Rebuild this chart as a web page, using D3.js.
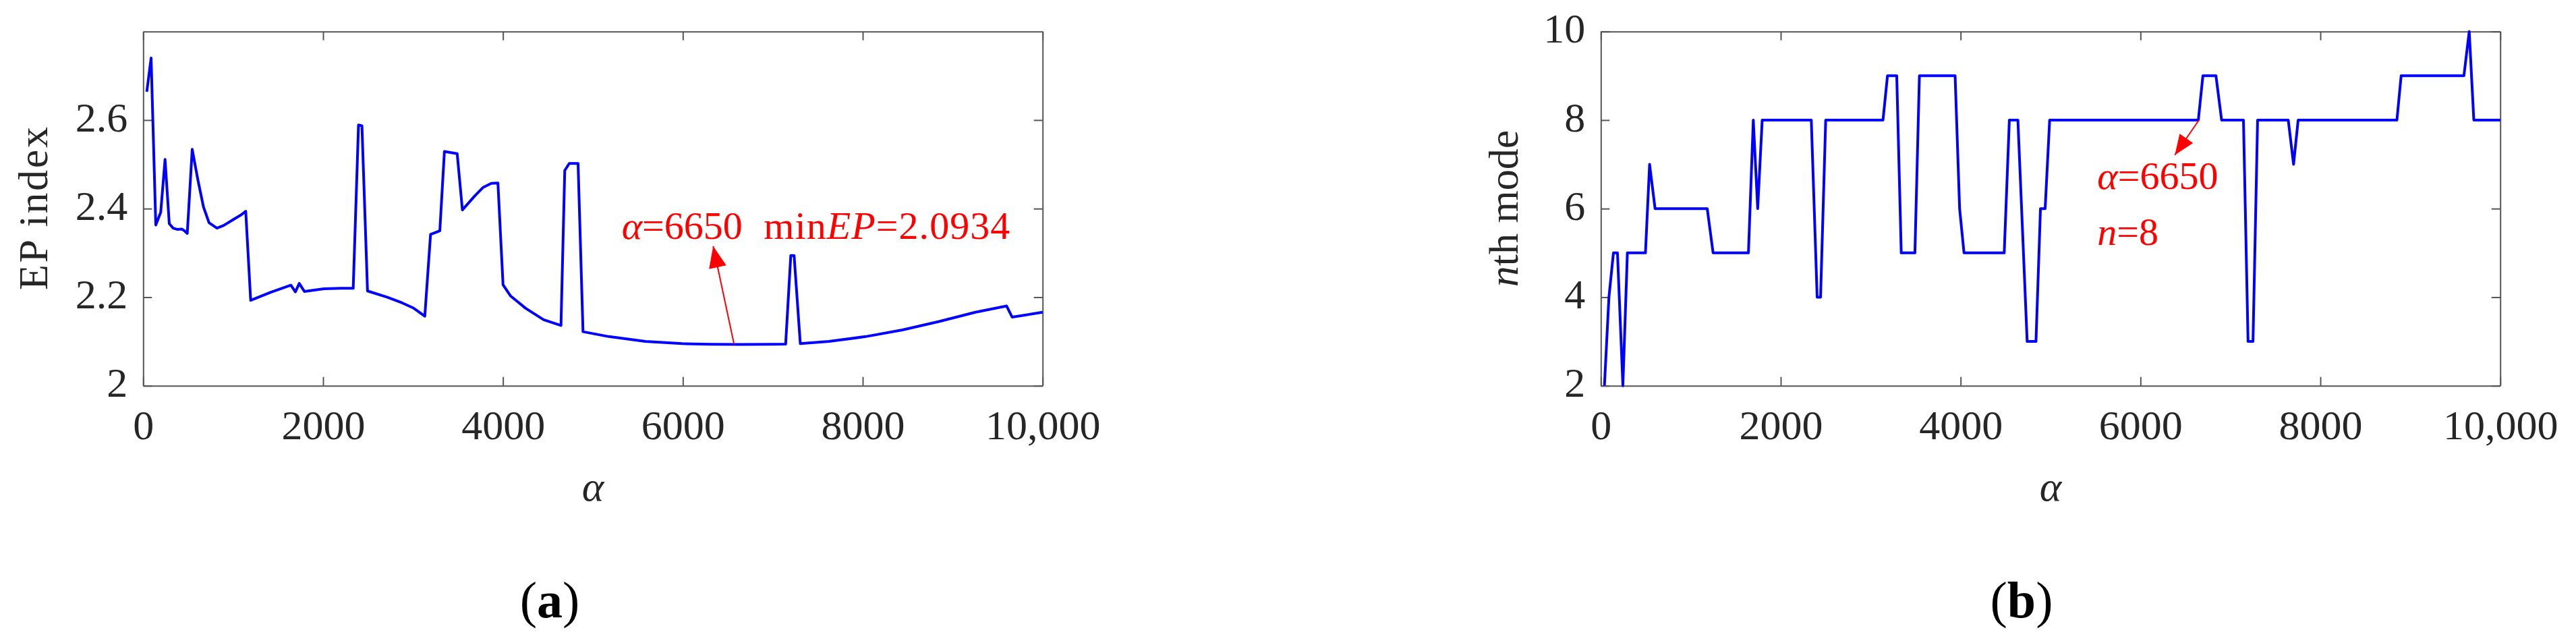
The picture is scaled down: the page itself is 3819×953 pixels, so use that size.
<!DOCTYPE html>
<html><head><meta charset="utf-8">
<script src="https://cdn.jsdelivr.net/npm/d3@7/dist/d3.min.js"></script>
<style>
html,body{margin:0;padding:0;background:#fff;}
svg text{font-family:"Liberation Serif","Times New Roman",serif;}
</style></head><body>
<svg id="chart" width="3819" height="953"></svg>
<script>
// ---------- data ----------
const alphaA = [40,88,140,195,243,290,333,383,428,458,490,545,607,670,732,820,895,1007,1082,1140,1195,1419,1642,1692,1735,1792,1900,2010,2200,2335,2394,2432,2494,2711,2880,3000,3131,3195,3298,3349,3491,3549,3683,3780,3870,3944,4001,4083,4252,4452,4645,4687,4737,4835,4890,5176,5584,5992,6300,6650,7000,7143,7200,7237,7306,7624,8033,8441,8849,9253,9600,9661,10000];
const epIndex = [2.664,2.74,2.363,2.392,2.511,2.366,2.356,2.353,2.354,2.35,2.344,2.534,2.466,2.404,2.368,2.356,2.362,2.376,2.385,2.394,2.193,2.211,2.227,2.212,2.231,2.213,2.216,2.219,2.22,2.22,2.589,2.587,2.214,2.2,2.187,2.176,2.157,2.342,2.35,2.529,2.524,2.397,2.428,2.448,2.457,2.458,2.228,2.203,2.175,2.149,2.136,2.486,2.502,2.502,2.122,2.111,2.1,2.095,2.0938,2.0934,2.0937,2.094,2.294,2.294,2.095,2.1,2.111,2.126,2.145,2.166,2.18,2.155,2.166];

const alphaB = [40,90,140,185,245,295,496,542,603,1183,1248,1641,1695,1744,1794,2340,2405,2443,2500,3137,3187,3290,3340,3492,3542,3939,3989,4038,4485,4542,4637,4740,4838,4888,4940,4990,6643,6694,6839,6902,7145,7196,7251,7302,7643,7702,7753,8851,8898,9596,9655,9706,10000];
const nthMode = [2,4,5,5,2,5,5,7,6,6,5,5,8,6,8,8,4,4,8,8,9,9,5,5,9,9,6,5,5,8,8,3,3,6,6,8,8,9,9,8,8,3,3,8,8,7,8,8,9,9,10,8,8];

const xTicks = [0,2000,4000,6000,8000,10000];
const xTickLabels = ["0","2000","4000","6000","8000","10,000"];
const yTicksA = [2,2.2,2.4,2.6];
const yTickLabelsA = ["2","2.2","2.4","2.6"];
const yTicksB = [2,4,6,8,10];
const yTickLabelsB = ["2","4","6","8","10"];
const optAlpha = 6650, minEP = 2.0934, optMode = 8;

// ---------- drawing ----------
const svg = d3.select("#chart");
svg.append("rect").attr("width",3819).attr("height",953).attr("fill","#fff");

const FS = 62, AX = "#555", TXT = "#262626", RED = "#ff0000";

function panel(o){
  const x = d3.scaleLinear().domain([0,10000]).range([o.x0,o.x1]);
  const y = d3.scaleLinear().domain(o.ydom).range([o.y1,o.y0]);
  const g = svg.append("g");
  const fmt = (arr, ticks) => (d)=> arr[ticks.indexOf(d)];

  const styleAxis = sel => {
    sel.selectAll("path.domain").attr("stroke",AX).attr("stroke-width",2);
    sel.selectAll(".tick line").attr("stroke",AX).attr("stroke-width",2);
    sel.selectAll("text").attr("fill",TXT).style("font-size",FS+"px")
       .style("font-family",'"Liberation Serif","Times New Roman",serif');
  };

  g.append("g").attr("transform",`translate(0,${o.y1})`)
    .call(d3.axisBottom(x).tickValues(xTicks).tickFormat(fmt(xTickLabels,xTicks))
      .tickSizeInner(-13).tickSizeOuter(0).tickPadding(35)).call(styleAxis);
  g.append("g").attr("transform",`translate(0,${o.y0})`)
    .call(d3.axisTop(x).tickValues(xTicks).tickFormat("").tickSizeInner(-13).tickSizeOuter(0)).call(styleAxis);
  const ya = g.append("g").attr("transform",`translate(${o.x0},0)`)
    .call(d3.axisLeft(y).tickValues(o.yTicks).tickFormat(fmt(o.yLabels,o.yTicks))
      .tickSizeInner(-13).tickSizeOuter(0).tickPadding(23)).call(styleAxis);
  ya.selectAll("text").attr("dy","0.26em");
  g.append("g").attr("transform",`translate(${o.x1},0)`)
    .call(d3.axisRight(y).tickValues(o.yTicks).tickFormat("").tickSizeInner(-13).tickSizeOuter(0)).call(styleAxis);

  // series
  const pts = o.xs.map((d,i)=>[d,o.ys[i]]);
  g.append("path").datum(pts)
    .attr("d", d3.line().x(d=>x(d[0])).y(d=>y(d[1])))
    .attr("fill","none").attr("stroke","#0000ff").attr("stroke-width",4)
    .attr("stroke-linejoin","round");

  // x label
  g.append("text").attr("x",(o.x0+o.x1)/2).attr("y",742).attr("text-anchor","middle")
    .style("font-size",FS+"px").style("font-style","italic").attr("fill",TXT).text("α");
  return {x,y,g};
}

function arrow(g, bx, by, tx, ty, len, half){
  g.append("line").attr("x1",bx).attr("y1",by).attr("x2",tx).attr("y2",ty)
    .attr("stroke",RED).attr("stroke-width",2);
  const dx = tx-bx, dy = ty-by, L = Math.hypot(dx,dy), ux = dx/L, uy = dy/L;
  const cx = tx-ux*len, cy = ty-uy*len;
  g.append("path").attr("d",`M${tx},${ty}L${cx-uy*half},${cy+ux*half}L${cx+uy*half},${cy-ux*half}Z`)
    .attr("fill",RED);
}

// panel (a)
const A = panel({x0:212.3,x1:1545.7,y0:46.7,y1:571.7,ydom:[2,2.8],yTicks:yTicksA,yLabels:yTickLabelsA,xs:alphaA,ys:epIndex});
svg.append("text").attr("transform","translate(70,309) rotate(-90)").attr("text-anchor","middle")
  .style("font-size",FS+"px").attr("fill",TXT).attr("textLength",242).text("EP index");
arrow(A.g, A.x(6570), A.y(minEP), A.x(6337), A.y(2.3154), 32, 13);
const ta = A.g.append("text").attr("x",A.x(5320)).attr("y",A.y(2.3317)).attr("fill",RED).style("font-size","58px");
ta.append("tspan").style("font-style","italic").text("α");
ta.append("tspan").text("="+optAlpha);
const tb = A.g.append("text").attr("x",A.x(6900)).attr("y",A.y(2.3317)).attr("fill",RED).style("font-size","58px")
  .attr("textLength",365);
tb.append("tspan").text("min");
tb.append("tspan").style("font-style","italic").text("EP");
tb.append("tspan").text("="+minEP);
svg.append("text").attr("x",815).attr("y",915).attr("text-anchor","middle").style("font-size","76px").attr("fill","#000")
  .html('(<tspan font-weight="bold">a</tspan>)');

// panel (b)
const B = panel({x0:2373.3,x1:3706.7,y0:46.7,y1:571.7,ydom:[2,10],yTicks:yTicksB,yLabels:yTickLabelsB,xs:alphaB,ys:nthMode});
const yl = svg.append("text").attr("transform","translate(2250,309) rotate(-90)").attr("text-anchor","middle")
  .style("font-size",FS+"px").attr("fill",TXT);
yl.append("tspan").style("font-style","italic").text("n");
yl.append("tspan").text("th mode");
arrow(B.g, B.x(optAlpha), B.y(optMode), B.x(6382), B.y(7.21), 30, 12);
const tc = B.g.append("text").attr("x",B.x(5520)).attr("y",B.y(6.45)).attr("fill",RED).style("font-size","58px");
tc.append("tspan").style("font-style","italic").text("α");
tc.append("tspan").text("="+optAlpha);
const td = B.g.append("text").attr("x",B.x(5520)).attr("y",B.y(5.18)).attr("fill",RED).style("font-size","58px");
td.append("tspan").style("font-style","italic").text("n");
td.append("tspan").text("="+optMode);
svg.append("text").attr("x",2997).attr("y",915).attr("text-anchor","middle").style("font-size","76px").attr("fill","#000")
  .html('(<tspan font-weight="bold">b</tspan>)');
</script>
</body></html>
